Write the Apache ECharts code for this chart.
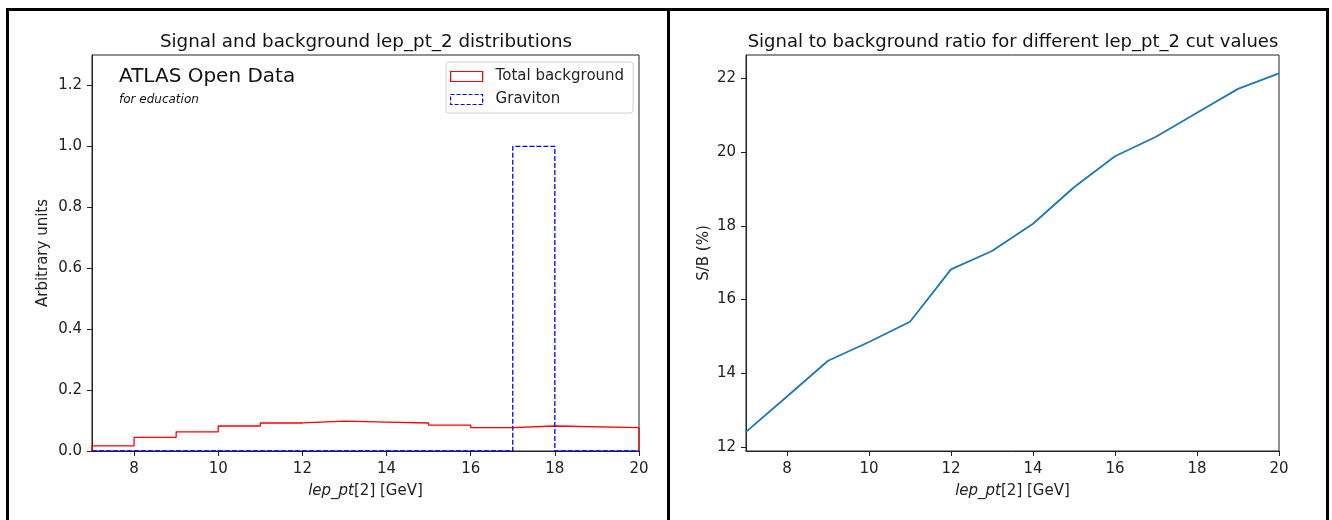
<!DOCTYPE html>
<html>
<head>
<meta charset="utf-8">
<script src="https://cdn.jsdelivr.net/npm/echarts@6/dist/echarts.min.js"></script>
<style>
html,body{margin:0;padding:0;background:#fff;}
#chart{width:1332px;height:520px;}
</style>
</head>
<body>
<div id="chart"></div>
<script>
// ---- data ----
const binEdges = [7, 8, 9, 10, 11, 12, 13, 14, 15, 16, 17, 18, 20];
const backgroundValues = [0.017, 0.045, 0.063, 0.082, 0.092, 0.098, 0.095, 0.092, 0.085, 0.077, 0.082, 0.077];
const gravitonValues = [0, 0, 0, 0, 0, 0, 0, 0, 0, 0, 1.0, 0];
const cutValues = [7, 8, 9, 10, 11, 12, 13, 14, 15, 16, 17, 18, 19, 20];
const ratioValues = [12.41, 13.37, 14.34, 14.85, 15.40, 16.82, 17.32, 18.06, 19.05, 19.89, 20.42, 21.07, 21.72, 22.14];
const xTicks = [8, 10, 12, 14, 16, 18, 20];
const histYTicks = [0.0, 0.2, 0.4, 0.6, 0.8, 1.0, 1.2];
const ratioYTicks = [12, 14, 16, 18, 20, 22];
const leftTitle = 'Signal and background lep_pt_2 distributions';
const rightTitle = 'Signal to background ratio for different lep_pt_2 cut values';

// build step outline points from bin edges
function stepPoints(edges, vals) {
  const pts = [[edges[0], 0]];
  for (let i = 0; i < vals.length; i++) {
    pts.push([edges[i], vals[i]]);
    pts.push([edges[i + 1], vals[i]]);
  }
  pts.push([edges[edges.length - 1], 0]);
  return pts;
}

const FONT = 'DejaVu Sans';
const FS = 15;
const tickLabel = { color: '#222', fontFamily: FONT, fontSize: FS, margin: 11 };
const axisLineStyle = { lineStyle: { color: '#222', width: 1 } };
const xName = {
  name: '{i|lep_pt}[2] [GeV]',
  nameLocation: 'middle',
  nameGap: 33,
  nameTextStyle: { fontFamily: FONT, fontSize: FS, color: '#222',
    rich: { i: { fontStyle: 'italic', fontFamily: FONT, fontSize: FS, color: '#222' } } }
};

const chart = echarts.init(document.getElementById('chart'), null, { renderer: 'canvas' });
chart.setOption({
  animation: false,
  backgroundColor: '#fff',
  title: [
    { text: leftTitle, left: 361, top: 28, textAlign: 'center',
      textStyle: { fontFamily: FONT, fontSize: 18.3, fontWeight: 'normal', color: '#111' } },
    { text: rightTitle, left: 1008, top: 28, textAlign: 'center',
      textStyle: { fontFamily: FONT, fontSize: 18, fontWeight: 'normal', color: '#111' } }
  ],
  grid: [
    { left: 92, top: 55, width: 547, height: 396, show: true, borderColor: '#222', borderWidth: 1, backgroundColor: 'transparent' },
    { left: 746, top: 55, width: 533, height: 396, show: true, borderColor: '#222', borderWidth: 1, backgroundColor: 'transparent' }
  ],
  xAxis: [
    Object.assign({ type: 'value', gridIndex: 0, min: 7, max: 20,
      axisLine: axisLineStyle, splitLine: { show: false },
      axisTick: { show: true, length: 5, lineStyle: { color: '#222' }, customValues: xTicks },
      axisLabel: Object.assign({ customValues: xTicks }, tickLabel) }, xName),
    Object.assign({ type: 'value', gridIndex: 1, min: 7, max: 20,
      axisLine: axisLineStyle, splitLine: { show: false },
      axisTick: { show: true, length: 5, lineStyle: { color: '#222' }, customValues: xTicks },
      axisLabel: Object.assign({ customValues: xTicks }, tickLabel) }, xName)
  ],
  yAxis: [
    { type: 'value', gridIndex: 0, min: 0, max: 1.3,
      name: 'Arbitrary units', nameLocation: 'middle', nameGap: 41,
      nameTextStyle: { fontFamily: FONT, fontSize: FS, color: '#222' },
      axisLine: Object.assign({ show: true }, axisLineStyle), splitLine: { show: false },
      axisTick: { show: true, length: 5, lineStyle: { color: '#222' }, customValues: histYTicks },
      axisLabel: Object.assign({}, tickLabel, { customValues: histYTicks, margin: 10, formatter: v => v.toFixed(1) }) },
    { type: 'value', gridIndex: 1, min: 11.89, max: 22.64,
      name: 'S/B (%)', nameLocation: 'middle', nameGap: 34,
      nameTextStyle: { fontFamily: FONT, fontSize: FS, color: '#222' },
      axisLine: Object.assign({ show: true }, axisLineStyle), splitLine: { show: false },
      axisTick: { show: true, length: 5, lineStyle: { color: '#222' }, customValues: ratioYTicks },
      axisLabel: Object.assign({}, tickLabel, { customValues: ratioYTicks, margin: 10, formatter: v => String(v) }) }
  ],
  legend: {
    orient: 'vertical',
    left: 446, top: 62,
    padding: [7, 9, 6, 4],
    itemWidth: 32, itemHeight: 10, itemGap: 8,
    backgroundColor: '#fff',
    borderColor: '#d0d0d0', borderWidth: 1, borderRadius: 3,
    textStyle: { fontFamily: FONT, fontSize: FS, color: '#222', padding: [0, 0, 0, 8] },
    data: [
      { name: 'Total background', icon: 'rect',
        itemStyle: { color: 'rgba(0,0,0,0)', borderColor: '#ff0000', borderWidth: 1.2 } },
      { name: 'Graviton', icon: 'rect',
        itemStyle: { color: 'rgba(0,0,0,0)', borderColor: '#0000ff', borderWidth: 1.2, borderType: [4, 2] } }
    ]
  },
  graphic: [
    { type: 'text', left: 119, top: 67, style: { text: 'ATLAS Open Data', fontFamily: FONT, fontSize: 20, fill: '#111' } },
    { type: 'text', left: 119, top: 94, style: { text: 'for education', fontFamily: FONT, fontSize: 12, fontStyle: 'italic', fill: '#111' } },
    { type: 'rect', shape: { x: 6, y: 8, width: 1323, height: 3 }, style: { fill: '#000' }, z: 100 },
    { type: 'rect', shape: { x: 6, y: 8, width: 3, height: 512 }, style: { fill: '#000' }, z: 100 },
    { type: 'rect', shape: { x: 667, y: 8, width: 3, height: 512 }, style: { fill: '#000' }, z: 100 },
    { type: 'rect', shape: { x: 1326, y: 8, width: 3, height: 512 }, style: { fill: '#000' }, z: 100 }
  ],
  series: [
    { name: 'Total background', type: 'line', xAxisIndex: 0, yAxisIndex: 0,
      data: stepPoints(binEdges, backgroundValues), symbol: 'none',
      lineStyle: { color: '#ff0000', width: 1.3 }, itemStyle: { color: '#ff0000' }, z: 3 },
    { name: 'Graviton', type: 'line', xAxisIndex: 0, yAxisIndex: 0,
      data: stepPoints(binEdges, gravitonValues), symbol: 'none',
      lineStyle: { color: '#0000ff', width: 1.3, type: [5, 2] }, itemStyle: { color: '#0000ff' }, z: 4 },
    { name: 'S/B', type: 'line', xAxisIndex: 1, yAxisIndex: 1,
      data: cutValues.map((c, i) => [c, ratioValues[i]]), symbol: 'none',
      lineStyle: { color: '#1f77b4', width: 1.8 }, itemStyle: { color: '#1f77b4' } }
  ]
});
</script>
</body>
</html>
